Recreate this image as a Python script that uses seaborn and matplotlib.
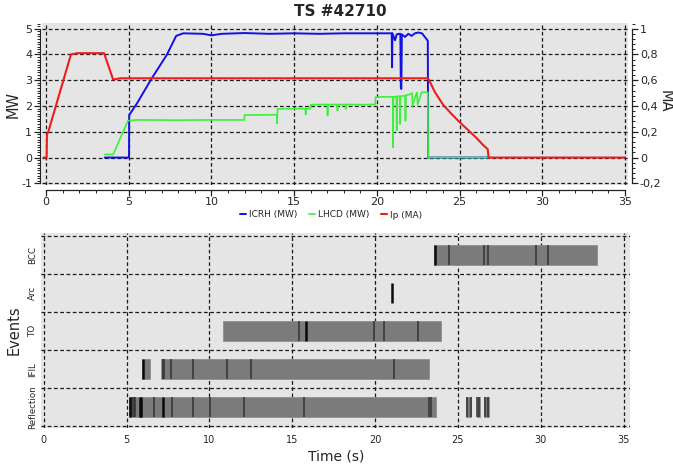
import numpy as np
import pandas as pd
import matplotlib
matplotlib.use("Agg")
import matplotlib.pyplot as plt
import seaborn as sns
from matplotlib.ticker import MultipleLocator, AutoMinorLocator, FuncFormatter

# --- top panel: heating powers (MW) and plasma current (MA) ---
icrh_t  = [3.55, 5.02, 5.03, 5.5, 6.37, 7.3, 7.87, 8.3, 9.5, 10.0, 10.6, 12.0, 13.5, 15.0, 16.5, 18.0, 19.5,
           20.90, 20.92, 20.94, 21.1, 21.2, 21.35, 21.42, 21.45, 21.48, 21.51, 21.7, 21.9, 22.1, 22.3, 22.5,
           22.73, 23.08, 23.10, 26.75]
icrh_mw = [0.0, 0.0, 1.65, 2.1, 3.05, 3.98, 4.72, 4.82, 4.8, 4.74, 4.8, 4.83, 4.8, 4.82, 4.8, 4.82, 4.82,
           4.82, 3.5, 4.82, 4.55, 4.78, 4.8, 4.8, 2.7, 2.66, 4.78, 4.68, 4.8, 4.72, 4.82, 4.85,
           4.82, 4.53, 0.0, 0.0]

lhcd_t  = [3.55, 4.06, 4.96, 5.5, 8.0, 10.0, 11.99, 12.0, 13.95, 13.97, 14.0, 15.68, 15.7, 15.72,
           15.98, 16.0, 17.0, 17.02, 17.05, 17.6, 17.62, 17.65, 18.1, 18.12, 18.15, 19.0, 19.9, 19.92,
           20.5, 20.96, 20.98, 21.0, 21.18, 21.2, 21.22, 21.38, 21.4, 21.42, 21.7, 21.73, 21.76,
           22.0, 22.13, 22.16, 22.4, 22.43, 22.46, 22.7, 23.08, 23.1, 26.75]
lhcd_mw = [0.12, 0.12, 1.43, 1.46, 1.45, 1.46, 1.46, 1.65, 1.66, 1.32, 1.89, 1.9, 1.67, 1.9,
           1.9, 2.05, 2.06, 1.63, 2.05, 2.06, 1.82, 2.05, 2.06, 1.88, 2.06, 2.05, 2.06, 2.34,
           2.36, 2.35, 0.4, 2.35, 2.36, 1.05, 2.38, 2.37, 1.3, 2.38, 2.4, 1.43, 2.42,
           2.45, 2.5, 2.0, 2.5, 2.52, 2.05, 2.53, 2.53, 0.0, 0.0]

ip_t  = [-0.15, 0.04, 0.06, 0.14, 1.51, 1.9, 3.51, 4.06, 4.5, 23.1, 23.5, 24.0, 24.5, 25.0, 25.5,
         26.0, 26.4, 26.7, 26.75, 35.0]
ip_ma = [0.0, 0.0, 0.18, 0.2, 0.8, 0.81, 0.81, 0.605, 0.615, 0.615, 0.51, 0.41, 0.34, 0.275, 0.215,
         0.155, 0.1, 0.065, 0.0, 0.0]

# --- bottom panel: events ---
rows = ["Reflection", "IFIL", "TO", "Arc", "BCC"]
reflection_spans = [(5.15, 23.7), (25.5, 25.8), (26.15, 26.3), (26.6, 26.85)]
reflection_events = [5.32, 5.44, 5.54, 6.65, 7.73, 9.04, 10.02, 12.08, 15.68, 23.25, 23.4,
                     25.52, 25.78, 26.17, 26.28, 26.62, 26.83]
reflection_strong = [5.22, 5.82, 5.88, 7.17]
ifil_spans = [(5.96, 6.39), (7.05, 23.23)]
ifil_events = [7.19, 7.29, 7.67, 9.02, 11.04, 12.5, 21.13]
ifil_strong = [6.02]
to_spans = [(10.8, 23.99)]
to_events = [15.42, 19.94, 20.52, 22.58]
to_strong = [15.84]
arc_spans = []
arc_events = []
arc_strong = [21.0]
bcc_spans = [(23.53, 33.41)]
bcc_events = [24.46, 26.6, 26.83, 29.7, 30.46]
bcc_strong = [23.6]

events = {
    "Reflection": (reflection_spans, reflection_events, reflection_strong),
    "IFIL": (ifil_spans, ifil_events, ifil_strong),
    "TO": (to_spans, to_events, to_strong),
    "Arc": (arc_spans, arc_events, arc_strong),
    "BCC": (bcc_spans, bcc_events, bcc_strong),
}

sns.set_style("ticks")
plt.rcParams["font.family"] = ["DejaVu Sans"]
plt.rcParams["axes.unicode_minus"] = False

W, H = 673, 466
fig = plt.figure(figsize=(W / 100, H / 100), dpi=100)


def px_box(x0, y0, x1, y1):
    return [x0 / W, 1 - y1 / H, (x1 - x0) / W, (y1 - y0) / H]


gray = "#e5e5e5"
grid_kw = dict(color="#1a1a1a", linestyle=(0, (3, 2)), linewidth=0.9)

# ---------- top ----------
ax = fig.add_axes(px_box(42, 23, 628, 185))
ax.set_facecolor(gray)
ax2 = ax.twinx()

sns.lineplot(x=icrh_t, y=icrh_mw, ax=ax, estimator=None, sort=False, color="#1010e8", lw=1.4)
sns.lineplot(x=lhcd_t, y=lhcd_mw, ax=ax, estimator=None, sort=False, color="#3cf03c", lw=1.2)
sns.lineplot(x=ip_t, y=ip_ma, ax=ax2, estimator=None, sort=False, color="#f01c1c", lw=1.5)

ax.set_xlim(-0.24, 35.18)
ax.set_ylim(-1.065, 5.22)
ax2.set_ylim(-0.213, 1.044)

ax.xaxis.set_major_locator(MultipleLocator(5))
ax.xaxis.set_minor_locator(AutoMinorLocator(5))
ax.yaxis.set_major_locator(MultipleLocator(1))
ax.yaxis.set_minor_locator(AutoMinorLocator(10))
ax2.yaxis.set_major_locator(MultipleLocator(0.2))
ax2.yaxis.set_minor_locator(AutoMinorLocator(5))
ax2.yaxis.set_major_formatter(FuncFormatter(lambda v, p: f"{v:g}".replace(".", ",") if abs(v) > 1e-9 else "0"))
ax.grid(True, which="major", **grid_kw)
ax.set_axisbelow(True)

for a in (ax, ax2):
    a.spines["top"].set_visible(False)
    a.set_xlabel("")
    a.set_ylabel("")
ax.spines["right"].set_visible(False)
ax2.spines["left"].set_visible(False)
ax2.spines["bottom"].set_visible(False)
ax.spines["left"].set_position(("outward", 1.5))
ax.spines["bottom"].set_position(("outward", 3.5))
ax2.spines["right"].set_position(("outward", 3))
ax.spines["left"].set_bounds(-1, 5)
ax.spines["bottom"].set_bounds(0, 35)
ax2.spines["right"].set_bounds(-0.2, 1)
for s in ("left", "bottom"):
    ax.spines[s].set_linewidth(0.9)
    ax.spines[s].set_color("#222222")
ax2.spines["right"].set_linewidth(0.9)
ax2.spines["right"].set_color("#222222")

ax.tick_params(which="major", length=4, width=0.9, labelsize=8, pad=1.5, color="#222222")
ax.tick_params(which="minor", length=2, width=0.7, color="#222222")
ax2.tick_params(which="major", length=4, width=0.9, labelsize=8, pad=1.5, color="#222222")
ax2.tick_params(which="minor", length=2, width=0.7, color="#222222")

fig.text(340 / W, 1 - 11 / H, "TS #42710", ha="center", va="center", fontsize=11, fontweight="bold")
fig.text(13 / W, 1 - 104 / H, "MW", ha="center", va="center", rotation=90, fontsize=10.5)
fig.text(665 / W, 1 - 101 / H, "MA", ha="center", va="center", rotation=-90, fontsize=10.5)

handles = [ax.lines[0], ax.lines[1], ax2.lines[0]]
fig.legend(handles, ["ICRH (MW)", "LHCD (MW)", "Ip (MA)"], loc="center",
           bbox_to_anchor=(331 / W, 1 - 215 / H), ncol=3, frameon=False, fontsize=6.5,
           handlelength=0.7, handletextpad=0.3, columnspacing=1.3)

# ---------- bottom ----------
bx = fig.add_axes(px_box(40.7, 232.7, 630, 428))
bx.set_facecolor(gray)
bar_h = 0.53
for i, name in enumerate(rows):
    spans, evs, strong = events[name]
    c = i + 0.5
    for s0, s1 in spans:
        bx.barh(c, s1 - s0, left=s0, height=bar_h, color="#7b7b7b", edgecolor="#8e8e8e", linewidth=0.6)
    if evs:
        bx.vlines(evs, c - bar_h / 2, c + bar_h / 2, color="#333333", lw=1.1)
    if strong:
        bx.vlines(strong, c - bar_h / 2, c + bar_h / 2, color="#0a0a0a", lw=1.8)

bx.set_xlim(-0.18, 35.38)
bx.set_ylim(-0.05, 5.09)
bx.xaxis.set_major_locator(MultipleLocator(5))
bx.set_yticks([i + 0.5 for i in range(len(rows))])
bx.set_yticklabels(rows, rotation=90, va="center", fontsize=6.3)
bx.set_yticks(range(len(rows) + 1), minor=True)
bx.tick_params(axis="both", which="both", length=0)
bx.tick_params(axis="x", labelsize=7, pad=5)
bx.tick_params(axis="y", pad=2.5)
bx.grid(True, axis="x", which="major", **grid_kw)
bx.grid(True, axis="y", which="minor", **grid_kw)
bx.grid(False, axis="y", which="major")
bx.set_axisbelow(True)
for s in bx.spines.values():
    s.set_visible(False)
fig.text(14 / W, 1 - 330 / H, "Events", ha="center", va="center", rotation=90, fontsize=10.5)
fig.text(336 / W, 1 - 457 / H, "Time (s)", ha="center", va="center", fontsize=10)

fig.savefig("out.png", dpi=100)
